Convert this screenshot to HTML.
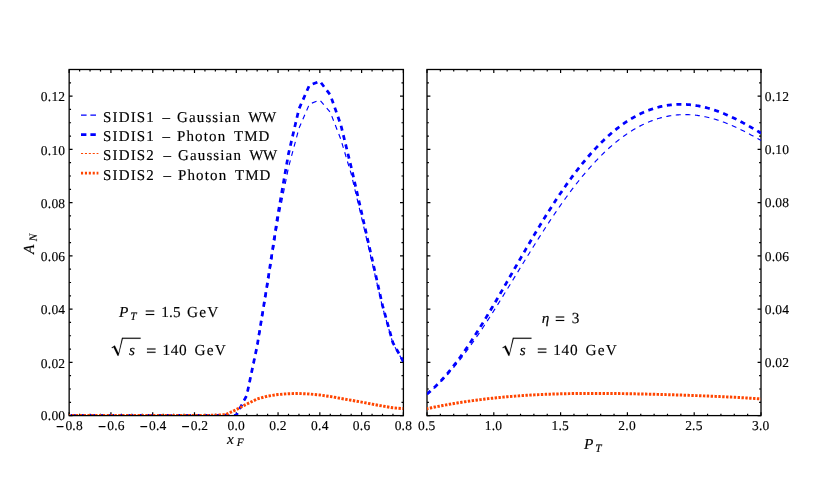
<!DOCTYPE html>
<html><head><meta charset="utf-8"><title>A_N plots</title>
<style>html,body{margin:0;padding:0;background:#fff;}body{width:830px;height:485px;position:relative;overflow:hidden;font-family:"Liberation Serif",serif;}</style>
</head><body>
<svg width="830" height="485" viewBox="0 0 830 485" style="display:block;position:absolute;left:0;top:0">
<rect width="830" height="485" fill="#fff"/>
<defs><clipPath id="cl"><rect x="69.15" y="69.5" width="334.25" height="345.60"/></clipPath><clipPath id="cr"><rect x="427.0" y="69.5" width="334.00" height="345.60"/></clipPath><mask id="tm" maskUnits="userSpaceOnUse" x="0" y="0" width="830" height="485"><rect width="830" height="485" fill="#fff"/></mask></defs>
<rect x="69.15" y="69.5" width="334.25" height="346.10" fill="none" stroke="#000" stroke-width="1.3"/>
<rect x="427.0" y="69.5" width="334.00" height="346.10" fill="none" stroke="#000" stroke-width="1.3"/>
<path d="M69.15,415.60L69.15,412.20M69.15,69.50L69.15,72.90M79.60,415.60L79.60,413.70M79.60,69.50L79.60,71.40M90.04,415.60L90.04,413.70M90.04,69.50L90.04,71.40M100.49,415.60L100.49,413.70M100.49,69.50L100.49,71.40M110.93,415.60L110.93,412.20M110.93,69.50L110.93,72.90M121.38,415.60L121.38,413.70M121.38,69.50L121.38,71.40M131.82,415.60L131.82,413.70M131.82,69.50L131.82,71.40M142.27,415.60L142.27,413.70M142.27,69.50L142.27,71.40M152.71,415.60L152.71,412.20M152.71,69.50L152.71,72.90M163.16,415.60L163.16,413.70M163.16,69.50L163.16,71.40M173.60,415.60L173.60,413.70M173.60,69.50L173.60,71.40M184.05,415.60L184.05,413.70M184.05,69.50L184.05,71.40M194.49,415.60L194.49,412.20M194.49,69.50L194.49,72.90M204.94,415.60L204.94,413.70M204.94,69.50L204.94,71.40M215.38,415.60L215.38,413.70M215.38,69.50L215.38,71.40M225.83,415.60L225.83,413.70M225.83,69.50L225.83,71.40M236.28,415.60L236.28,412.20M236.28,69.50L236.28,72.90M246.72,415.60L246.72,413.70M246.72,69.50L246.72,71.40M257.17,415.60L257.17,413.70M257.17,69.50L257.17,71.40M267.61,415.60L267.61,413.70M267.61,69.50L267.61,71.40M278.06,415.60L278.06,412.20M278.06,69.50L278.06,72.90M288.50,415.60L288.50,413.70M288.50,69.50L288.50,71.40M298.95,415.60L298.95,413.70M298.95,69.50L298.95,71.40M309.39,415.60L309.39,413.70M309.39,69.50L309.39,71.40M319.84,415.60L319.84,412.20M319.84,69.50L319.84,72.90M330.28,415.60L330.28,413.70M330.28,69.50L330.28,71.40M340.73,415.60L340.73,413.70M340.73,69.50L340.73,71.40M351.17,415.60L351.17,413.70M351.17,69.50L351.17,71.40M361.62,415.60L361.62,412.20M361.62,69.50L361.62,72.90M372.06,415.60L372.06,413.70M372.06,69.50L372.06,71.40M382.51,415.60L382.51,413.70M382.51,69.50L382.51,71.40M392.95,415.60L392.95,413.70M392.95,69.50L392.95,71.40M403.40,415.60L403.40,412.20M403.40,69.50L403.40,72.90M69.15,415.60L72.55,415.60M403.40,415.60L400.00,415.60M69.15,402.29L71.05,402.29M403.40,402.29L401.50,402.29M69.15,388.98L71.05,388.98M403.40,388.98L401.50,388.98M69.15,375.66L71.05,375.66M403.40,375.66L401.50,375.66M69.15,362.35L72.55,362.35M403.40,362.35L400.00,362.35M69.15,349.04L71.05,349.04M403.40,349.04L401.50,349.04M69.15,335.73L71.05,335.73M403.40,335.73L401.50,335.73M69.15,322.41L71.05,322.41M403.40,322.41L401.50,322.41M69.15,309.10L72.55,309.10M403.40,309.10L400.00,309.10M69.15,295.79L71.05,295.79M403.40,295.79L401.50,295.79M69.15,282.48L71.05,282.48M403.40,282.48L401.50,282.48M69.15,269.16L71.05,269.16M403.40,269.16L401.50,269.16M69.15,255.85L72.55,255.85M403.40,255.85L400.00,255.85M69.15,242.54L71.05,242.54M403.40,242.54L401.50,242.54M69.15,229.22L71.05,229.22M403.40,229.22L401.50,229.22M69.15,215.91L71.05,215.91M403.40,215.91L401.50,215.91M69.15,202.60L72.55,202.60M403.40,202.60L400.00,202.60M69.15,189.29L71.05,189.29M403.40,189.29L401.50,189.29M69.15,175.98L71.05,175.98M403.40,175.98L401.50,175.98M69.15,162.66L71.05,162.66M403.40,162.66L401.50,162.66M69.15,149.35L72.55,149.35M403.40,149.35L400.00,149.35M69.15,136.04L71.05,136.04M403.40,136.04L401.50,136.04M69.15,122.73L71.05,122.73M403.40,122.73L401.50,122.73M69.15,109.41L71.05,109.41M403.40,109.41L401.50,109.41M69.15,96.10L72.55,96.10M403.40,96.10L400.00,96.10M69.15,82.79L71.05,82.79M403.40,82.79L401.50,82.79M69.15,69.48L71.05,69.48M403.40,69.48L401.50,69.48M427.00,415.60L427.00,412.20M427.00,69.50L427.00,72.90M440.36,415.60L440.36,413.70M440.36,69.50L440.36,71.40M453.72,415.60L453.72,413.70M453.72,69.50L453.72,71.40M467.08,415.60L467.08,413.70M467.08,69.50L467.08,71.40M480.44,415.60L480.44,413.70M480.44,69.50L480.44,71.40M493.80,415.60L493.80,412.20M493.80,69.50L493.80,72.90M507.16,415.60L507.16,413.70M507.16,69.50L507.16,71.40M520.52,415.60L520.52,413.70M520.52,69.50L520.52,71.40M533.88,415.60L533.88,413.70M533.88,69.50L533.88,71.40M547.24,415.60L547.24,413.70M547.24,69.50L547.24,71.40M560.60,415.60L560.60,412.20M560.60,69.50L560.60,72.90M573.96,415.60L573.96,413.70M573.96,69.50L573.96,71.40M587.32,415.60L587.32,413.70M587.32,69.50L587.32,71.40M600.68,415.60L600.68,413.70M600.68,69.50L600.68,71.40M614.04,415.60L614.04,413.70M614.04,69.50L614.04,71.40M627.40,415.60L627.40,412.20M627.40,69.50L627.40,72.90M640.76,415.60L640.76,413.70M640.76,69.50L640.76,71.40M654.12,415.60L654.12,413.70M654.12,69.50L654.12,71.40M667.48,415.60L667.48,413.70M667.48,69.50L667.48,71.40M680.84,415.60L680.84,413.70M680.84,69.50L680.84,71.40M694.20,415.60L694.20,412.20M694.20,69.50L694.20,72.90M707.56,415.60L707.56,413.70M707.56,69.50L707.56,71.40M720.92,415.60L720.92,413.70M720.92,69.50L720.92,71.40M734.28,415.60L734.28,413.70M734.28,69.50L734.28,71.40M747.64,415.60L747.64,413.70M747.64,69.50L747.64,71.40M761.00,415.60L761.00,412.20M761.00,69.50L761.00,72.90M427.00,415.60L430.40,415.60M761.00,415.60L757.60,415.60M427.00,402.29L428.90,402.29M761.00,402.29L759.10,402.29M427.00,388.98L428.90,388.98M761.00,388.98L759.10,388.98M427.00,375.66L428.90,375.66M761.00,375.66L759.10,375.66M427.00,362.35L430.40,362.35M761.00,362.35L757.60,362.35M427.00,349.04L428.90,349.04M761.00,349.04L759.10,349.04M427.00,335.73L428.90,335.73M761.00,335.73L759.10,335.73M427.00,322.41L428.90,322.41M761.00,322.41L759.10,322.41M427.00,309.10L430.40,309.10M761.00,309.10L757.60,309.10M427.00,295.79L428.90,295.79M761.00,295.79L759.10,295.79M427.00,282.48L428.90,282.48M761.00,282.48L759.10,282.48M427.00,269.16L428.90,269.16M761.00,269.16L759.10,269.16M427.00,255.85L430.40,255.85M761.00,255.85L757.60,255.85M427.00,242.54L428.90,242.54M761.00,242.54L759.10,242.54M427.00,229.22L428.90,229.22M761.00,229.22L759.10,229.22M427.00,215.91L428.90,215.91M761.00,215.91L759.10,215.91M427.00,202.60L430.40,202.60M761.00,202.60L757.60,202.60M427.00,189.29L428.90,189.29M761.00,189.29L759.10,189.29M427.00,175.98L428.90,175.98M761.00,175.98L759.10,175.98M427.00,162.66L428.90,162.66M761.00,162.66L759.10,162.66M427.00,149.35L430.40,149.35M761.00,149.35L757.60,149.35M427.00,136.04L428.90,136.04M761.00,136.04L759.10,136.04M427.00,122.73L428.90,122.73M761.00,122.73L759.10,122.73M427.00,109.41L428.90,109.41M761.00,109.41L759.10,109.41M427.00,96.10L430.40,96.10M761.00,96.10L757.60,96.10M427.00,82.79L428.90,82.79M761.00,82.79L759.10,82.79M427.00,69.48L428.90,69.48M761.00,69.48L759.10,69.48" stroke="#000" stroke-width="1.2" fill="none"/>
<path d="M69.15,415.40 L79.60,415.40 L90.04,415.40 L100.49,415.40 L110.93,415.40 L121.38,415.40 L131.82,415.40 L142.27,415.40 L152.71,415.40 L163.16,415.40 L173.60,415.40 L184.05,415.40 L194.49,415.40 L204.94,415.40 L215.38,415.40 L225.83,415.40 L236.28,415.40 L246.72,395.90 L257.17,347.80 L267.61,286.00 L278.06,220.30 L288.50,167.30 L298.95,128.40 L309.39,104.10 L319.84,100.00 L330.28,112.30 L340.73,139.00 L351.17,173.90 L361.62,217.80 L372.06,262.20 L382.51,307.20 L392.95,343.60 L403.40,362.00" fill="none" stroke="#0000ff" stroke-width="1.15" stroke-dasharray="5.0 4.6" stroke-dashoffset="8.10" stroke-linejoin="round" clip-path="url(#cl)"/>
<path d="M69.15,415.40 L79.60,415.40 L90.04,415.40 L100.49,415.40 L110.93,415.40 L121.38,415.40 L131.82,415.40 L142.27,415.40 L152.71,415.40 L163.16,415.40 L173.60,415.40 L184.05,415.40 L194.49,415.40 L204.94,415.40 L215.38,415.40 L225.83,415.40 L236.28,415.40 L246.72,395.40 L257.17,345.80 L267.61,281.90 L278.06,213.60 L288.50,153.80 L298.95,109.00 L309.39,85.30 L319.84,81.20 L330.28,94.90 L340.73,124.50 L351.17,167.00 L361.62,212.80 L372.06,258.90 L382.51,305.40 L392.95,342.80 L403.40,361.50" fill="none" stroke="#0000ff" stroke-width="2.75" stroke-dasharray="5.0 4.6" stroke-dashoffset="8.00" stroke-linejoin="round" clip-path="url(#cl)"/>
<path d="M69.15,415.40 L79.60,415.40 L90.04,415.40 L100.49,415.40 L110.93,415.40 L121.38,415.40 L131.82,415.40 L142.27,415.40 L152.71,415.40 L163.16,415.40 L173.60,415.40 L184.05,415.40 L194.49,415.40 L204.94,415.40 L215.38,415.30 L225.83,414.60 L236.28,409.60 L246.72,404.10 L257.17,399.00 L267.61,396.10 L278.06,394.50 L288.50,393.70 L298.95,393.50 L309.39,394.00 L319.84,395.00 L330.28,396.50 L340.73,398.40 L351.17,400.20 L361.62,402.10 L372.06,404.10 L382.51,406.05 L392.95,407.80 L403.40,408.60" fill="none" stroke="#ff4500" stroke-width="2.95" stroke-dasharray="2.4 1.46" stroke-dashoffset="1.05" stroke-linejoin="round" clip-path="url(#cl)"/>
<path d="M427.00,394.47 L428.12,393.53 L429.23,392.57 L430.35,391.60 L431.47,390.61 L432.59,389.61 L433.70,388.59 L434.82,387.55 L435.94,386.49 L437.05,385.42 L438.17,384.33 L439.29,383.23 L440.40,382.11 L441.52,380.97 L442.64,379.81 L443.76,378.64 L444.87,377.45 L445.99,376.24 L447.11,375.01 L448.22,373.77 L449.34,372.51 L450.46,371.24 L451.58,369.94 L452.69,368.63 L453.81,367.31 L454.93,365.97 L456.04,364.61 L457.16,363.23 L458.28,361.84 L459.39,360.44 L460.51,359.02 L461.63,357.58 L462.75,356.13 L463.86,354.66 L464.98,353.18 L466.10,351.69 L467.21,350.18 L468.33,348.65 L469.45,347.12 L470.57,345.57 L471.68,344.00 L472.80,342.43 L473.92,340.84 L475.03,339.23 L476.15,337.62 L477.27,336.00 L478.38,334.36 L479.50,332.71 L480.62,331.05 L481.74,329.39 L482.85,327.71 L483.97,326.02 L485.09,324.32 L486.20,322.61 L487.32,320.90 L488.44,319.17 L489.56,317.44 L490.67,315.70 L491.79,313.95 L492.91,312.19 L494.02,310.43 L495.14,308.66 L496.26,306.89 L497.37,305.10 L498.49,303.32 L499.61,301.53 L500.73,299.73 L501.84,297.93 L502.96,296.12 L504.08,294.32 L505.19,292.50 L506.31,290.69 L507.43,288.87 L508.55,287.05 L509.66,285.23 L510.78,283.40 L511.90,281.58 L513.01,279.75 L514.13,277.92 L515.25,276.09 L516.36,274.27 L517.48,272.44 L518.60,270.61 L519.72,268.79 L520.83,266.96 L521.95,265.14 L523.07,263.32 L524.18,261.50 L525.30,259.68 L526.42,257.87 L527.54,256.05 L528.65,254.25 L529.77,252.44 L530.89,250.64 L532.00,248.85 L533.12,247.06 L534.24,245.27 L535.35,243.49 L536.47,241.71 L537.59,239.94 L538.71,238.18 L539.82,236.42 L540.94,234.67 L542.06,232.92 L543.17,231.19 L544.29,229.46 L545.41,227.73 L546.53,226.02 L547.64,224.31 L548.76,222.61 L549.88,220.92 L550.99,219.24 L552.11,217.57 L553.23,215.90 L554.34,214.25 L555.46,212.60 L556.58,210.97 L557.70,209.34 L558.81,207.73 L559.93,206.12 L561.05,204.53 L562.16,202.95 L563.28,201.37 L564.40,199.81 L565.52,198.26 L566.63,196.72 L567.75,195.20 L568.87,193.68 L569.98,192.18 L571.10,190.69 L572.22,189.21 L573.33,187.74 L574.45,186.29 L575.57,184.85 L576.69,183.42 L577.80,182.00 L578.92,180.60 L580.04,179.21 L581.15,177.83 L582.27,176.47 L583.39,175.12 L584.51,173.79 L585.62,172.47 L586.74,171.16 L587.86,169.86 L588.97,168.59 L590.09,167.32 L591.21,166.07 L592.32,164.83 L593.44,163.61 L594.56,162.40 L595.68,161.21 L596.79,160.03 L597.91,158.86 L599.03,157.71 L600.14,156.58 L601.26,155.46 L602.38,154.35 L603.49,153.26 L604.61,152.19 L605.73,151.13 L606.85,150.08 L607.96,149.06 L609.08,148.04 L610.20,147.04 L611.31,146.06 L612.43,145.09 L613.55,144.14 L614.67,143.20 L615.78,142.27 L616.90,141.37 L618.02,140.47 L619.13,139.60 L620.25,138.74 L621.37,137.89 L622.48,137.06 L623.60,136.25 L624.72,135.45 L625.84,134.66 L626.95,133.89 L628.07,133.14 L629.19,132.40 L630.30,131.68 L631.42,130.97 L632.54,130.28 L633.66,129.60 L634.77,128.94 L635.89,128.30 L637.01,127.67 L638.12,127.05 L639.24,126.45 L640.36,125.87 L641.47,125.30 L642.59,124.74 L643.71,124.21 L644.83,123.68 L645.94,123.17 L647.06,122.68 L648.18,122.20 L649.29,121.74 L650.41,121.29 L651.53,120.86 L652.65,120.44 L653.76,120.03 L654.88,119.65 L656.00,119.27 L657.11,118.91 L658.23,118.57 L659.35,118.24 L660.46,117.92 L661.58,117.62 L662.70,117.34 L663.82,117.07 L664.93,116.81 L666.05,116.57 L667.17,116.34 L668.28,116.13 L669.40,115.93 L670.52,115.74 L671.64,115.57 L672.75,115.42 L673.87,115.27 L674.99,115.14 L676.10,115.03 L677.22,114.93 L678.34,114.84 L679.45,114.77 L680.57,114.71 L681.69,114.66 L682.81,114.63 L683.92,114.61 L685.04,114.61 L686.16,114.62 L687.27,114.64 L688.39,114.67 L689.51,114.72 L690.63,114.78 L691.74,114.86 L692.86,114.94 L693.98,115.05 L695.09,115.16 L696.21,115.28 L697.33,115.42 L698.44,115.58 L699.56,115.74 L700.68,115.92 L701.80,116.10 L702.91,116.31 L704.03,116.52 L705.15,116.74 L706.26,116.98 L707.38,117.23 L708.50,117.49 L709.62,117.77 L710.73,118.05 L711.85,118.35 L712.97,118.66 L714.08,118.97 L715.20,119.30 L716.32,119.65 L717.43,120.00 L718.55,120.36 L719.67,120.73 L720.79,121.12 L721.90,121.51 L723.02,121.92 L724.14,122.33 L725.25,122.76 L726.37,123.20 L727.49,123.64 L728.61,124.09 L729.72,124.56 L730.84,125.03 L731.96,125.51 L733.07,126.00 L734.19,126.50 L735.31,127.01 L736.42,127.53 L737.54,128.05 L738.66,128.59 L739.78,129.13 L740.89,129.67 L742.01,130.23 L743.13,130.79 L744.24,131.36 L745.36,131.93 L746.48,132.51 L747.60,133.10 L748.71,133.69 L749.83,134.29 L750.95,134.90 L752.06,135.50 L753.18,136.12 L754.30,136.73 L755.41,137.35 L756.53,137.98 L757.65,138.60 L758.77,139.23 L759.88,139.87 L761.00,140.50" fill="none" stroke="#0000ff" stroke-width="1.15" stroke-dasharray="5.0 4.6" stroke-dashoffset="0.70" stroke-linejoin="round" clip-path="url(#cr)"/>
<path d="M427.00,394.02 L428.12,393.08 L429.23,392.13 L430.35,391.16 L431.47,390.16 L432.59,389.14 L433.70,388.10 L434.82,387.03 L435.94,385.95 L437.05,384.84 L438.17,383.71 L439.29,382.56 L440.40,381.38 L441.52,380.19 L442.64,378.97 L443.76,377.73 L444.87,376.47 L445.99,375.19 L447.11,373.89 L448.22,372.57 L449.34,371.22 L450.46,369.86 L451.58,368.48 L452.69,367.08 L453.81,365.66 L454.93,364.21 L456.04,362.76 L457.16,361.28 L458.28,359.78 L459.39,358.27 L460.51,356.73 L461.63,355.18 L462.75,353.62 L463.86,352.03 L464.98,350.43 L466.10,348.82 L467.21,347.18 L468.33,345.54 L469.45,343.88 L470.57,342.20 L471.68,340.51 L472.80,338.80 L473.92,337.08 L475.03,335.35 L476.15,333.61 L477.27,331.85 L478.38,330.08 L479.50,328.30 L480.62,326.51 L481.74,324.70 L482.85,322.89 L483.97,321.07 L485.09,319.23 L486.20,317.39 L487.32,315.54 L488.44,313.68 L489.56,311.81 L490.67,309.93 L491.79,308.05 L492.91,306.16 L494.02,304.26 L495.14,302.36 L496.26,300.45 L497.37,298.54 L498.49,296.62 L499.61,294.70 L500.73,292.77 L501.84,290.84 L502.96,288.90 L504.08,286.97 L505.19,285.03 L506.31,283.09 L507.43,281.14 L508.55,279.20 L509.66,277.25 L510.78,275.30 L511.90,273.36 L513.01,271.41 L514.13,269.46 L515.25,267.52 L516.36,265.57 L517.48,263.63 L518.60,261.69 L519.72,259.75 L520.83,257.81 L521.95,255.88 L523.07,253.95 L524.18,252.02 L525.30,250.10 L526.42,248.18 L527.54,246.27 L528.65,244.36 L529.77,242.45 L530.89,240.56 L532.00,238.66 L533.12,236.78 L534.24,234.90 L535.35,233.03 L536.47,231.16 L537.59,229.30 L538.71,227.45 L539.82,225.61 L540.94,223.77 L542.06,221.95 L543.17,220.13 L544.29,218.32 L545.41,216.52 L546.53,214.73 L547.64,212.95 L548.76,211.18 L549.88,209.42 L550.99,207.68 L552.11,205.94 L553.23,204.21 L554.34,202.49 L555.46,200.79 L556.58,199.09 L557.70,197.41 L558.81,195.74 L559.93,194.08 L561.05,192.44 L562.16,190.80 L563.28,189.18 L564.40,187.57 L565.52,185.98 L566.63,184.40 L567.75,182.83 L568.87,181.27 L569.98,179.73 L571.10,178.21 L572.22,176.69 L573.33,175.19 L574.45,173.71 L575.57,172.24 L576.69,170.78 L577.80,169.34 L578.92,167.91 L580.04,166.50 L581.15,165.10 L582.27,163.72 L583.39,162.35 L584.51,161.00 L585.62,159.66 L586.74,158.34 L587.86,157.03 L588.97,155.74 L590.09,154.47 L591.21,153.21 L592.32,151.97 L593.44,150.74 L594.56,149.53 L595.68,148.33 L596.79,147.15 L597.91,145.99 L599.03,144.84 L600.14,143.71 L601.26,142.59 L602.38,141.50 L603.49,140.41 L604.61,139.35 L605.73,138.30 L606.85,137.26 L607.96,136.24 L609.08,135.24 L610.20,134.26 L611.31,133.29 L612.43,132.34 L613.55,131.40 L614.67,130.48 L615.78,129.58 L616.90,128.69 L618.02,127.82 L619.13,126.97 L620.25,126.13 L621.37,125.31 L622.48,124.51 L623.60,123.72 L624.72,122.95 L625.84,122.19 L626.95,121.45 L628.07,120.73 L629.19,120.02 L630.30,119.33 L631.42,118.66 L632.54,118.00 L633.66,117.35 L634.77,116.73 L635.89,116.12 L637.01,115.52 L638.12,114.95 L639.24,114.38 L640.36,113.84 L641.47,113.31 L642.59,112.79 L643.71,112.29 L644.83,111.81 L645.94,111.34 L647.06,110.89 L648.18,110.46 L649.29,110.03 L650.41,109.63 L651.53,109.24 L652.65,108.86 L653.76,108.51 L654.88,108.16 L656.00,107.83 L657.11,107.52 L658.23,107.22 L659.35,106.94 L660.46,106.67 L661.58,106.41 L662.70,106.17 L663.82,105.95 L664.93,105.74 L666.05,105.55 L667.17,105.37 L668.28,105.20 L669.40,105.05 L670.52,104.91 L671.64,104.79 L672.75,104.68 L673.87,104.59 L674.99,104.51 L676.10,104.44 L677.22,104.39 L678.34,104.35 L679.45,104.32 L680.57,104.31 L681.69,104.32 L682.81,104.33 L683.92,104.36 L685.04,104.41 L686.16,104.46 L687.27,104.53 L688.39,104.62 L689.51,104.71 L690.63,104.82 L691.74,104.95 L692.86,105.08 L693.98,105.23 L695.09,105.39 L696.21,105.56 L697.33,105.75 L698.44,105.95 L699.56,106.16 L700.68,106.38 L701.80,106.62 L702.91,106.87 L704.03,107.13 L705.15,107.40 L706.26,107.68 L707.38,107.98 L708.50,108.28 L709.62,108.60 L710.73,108.93 L711.85,109.27 L712.97,109.63 L714.08,109.99 L715.20,110.36 L716.32,110.75 L717.43,111.14 L718.55,111.55 L719.67,111.97 L720.79,112.39 L721.90,112.83 L723.02,113.28 L724.14,113.74 L725.25,114.20 L726.37,114.68 L727.49,115.17 L728.61,115.66 L729.72,116.17 L730.84,116.68 L731.96,117.20 L733.07,117.73 L734.19,118.27 L735.31,118.82 L736.42,119.37 L737.54,119.94 L738.66,120.51 L739.78,121.08 L740.89,121.67 L742.01,122.26 L743.13,122.86 L744.24,123.47 L745.36,124.08 L746.48,124.70 L747.60,125.32 L748.71,125.95 L749.83,126.58 L750.95,127.22 L752.06,127.86 L753.18,128.51 L754.30,129.16 L755.41,129.82 L756.53,130.47 L757.65,131.13 L758.77,131.80 L759.88,132.46 L761.00,133.13" fill="none" stroke="#0000ff" stroke-width="2.75" stroke-dasharray="5.0 4.6" stroke-dashoffset="0.25" stroke-linejoin="round" clip-path="url(#cr)"/>
<path d="M427.00,408.69 L428.12,408.45 L429.23,408.21 L430.35,407.98 L431.47,407.75 L432.59,407.52 L433.70,407.29 L434.82,407.06 L435.94,406.84 L437.05,406.62 L438.17,406.40 L439.29,406.18 L440.40,405.97 L441.52,405.75 L442.64,405.54 L443.76,405.33 L444.87,405.13 L445.99,404.92 L447.11,404.72 L448.22,404.52 L449.34,404.32 L450.46,404.13 L451.58,403.93 L452.69,403.74 L453.81,403.55 L454.93,403.36 L456.04,403.17 L457.16,402.99 L458.28,402.81 L459.39,402.63 L460.51,402.45 L461.63,402.27 L462.75,402.10 L463.86,401.93 L464.98,401.76 L466.10,401.59 L467.21,401.43 L468.33,401.26 L469.45,401.10 L470.57,400.94 L471.68,400.78 L472.80,400.63 L473.92,400.47 L475.03,400.32 L476.15,400.17 L477.27,400.02 L478.38,399.88 L479.50,399.73 L480.62,399.59 L481.74,399.45 L482.85,399.31 L483.97,399.18 L485.09,399.04 L486.20,398.91 L487.32,398.78 L488.44,398.65 L489.56,398.52 L490.67,398.40 L491.79,398.28 L492.91,398.16 L494.02,398.04 L495.14,397.92 L496.26,397.80 L497.37,397.69 L498.49,397.58 L499.61,397.47 L500.73,397.36 L501.84,397.25 L502.96,397.14 L504.08,397.04 L505.19,396.94 L506.31,396.84 L507.43,396.74 L508.55,396.64 L509.66,396.55 L510.78,396.46 L511.90,396.37 L513.01,396.28 L514.13,396.19 L515.25,396.10 L516.36,396.02 L517.48,395.93 L518.60,395.85 L519.72,395.77 L520.83,395.69 L521.95,395.62 L523.07,395.54 L524.18,395.47 L525.30,395.39 L526.42,395.32 L527.54,395.25 L528.65,395.19 L529.77,395.12 L530.89,395.06 L532.00,394.99 L533.12,394.93 L534.24,394.87 L535.35,394.81 L536.47,394.75 L537.59,394.70 L538.71,394.64 L539.82,394.59 L540.94,394.54 L542.06,394.49 L543.17,394.44 L544.29,394.39 L545.41,394.34 L546.53,394.30 L547.64,394.25 L548.76,394.21 L549.88,394.17 L550.99,394.13 L552.11,394.09 L553.23,394.05 L554.34,394.02 L555.46,393.98 L556.58,393.95 L557.70,393.91 L558.81,393.88 L559.93,393.85 L561.05,393.82 L562.16,393.79 L563.28,393.77 L564.40,393.74 L565.52,393.72 L566.63,393.69 L567.75,393.67 L568.87,393.65 L569.98,393.63 L571.10,393.61 L572.22,393.59 L573.33,393.57 L574.45,393.56 L575.57,393.54 L576.69,393.53 L577.80,393.51 L578.92,393.50 L580.04,393.49 L581.15,393.48 L582.27,393.47 L583.39,393.46 L584.51,393.45 L585.62,393.44 L586.74,393.44 L587.86,393.43 L588.97,393.43 L590.09,393.42 L591.21,393.42 L592.32,393.42 L593.44,393.42 L594.56,393.42 L595.68,393.42 L596.79,393.42 L597.91,393.42 L599.03,393.42 L600.14,393.43 L601.26,393.43 L602.38,393.43 L603.49,393.44 L604.61,393.45 L605.73,393.45 L606.85,393.46 L607.96,393.47 L609.08,393.48 L610.20,393.49 L611.31,393.50 L612.43,393.51 L613.55,393.52 L614.67,393.53 L615.78,393.54 L616.90,393.56 L618.02,393.57 L619.13,393.59 L620.25,393.60 L621.37,393.62 L622.48,393.63 L623.60,393.65 L624.72,393.67 L625.84,393.68 L626.95,393.70 L628.07,393.72 L629.19,393.74 L630.30,393.76 L631.42,393.78 L632.54,393.80 L633.66,393.82 L634.77,393.84 L635.89,393.86 L637.01,393.89 L638.12,393.91 L639.24,393.93 L640.36,393.96 L641.47,393.98 L642.59,394.01 L643.71,394.03 L644.83,394.06 L645.94,394.08 L647.06,394.11 L648.18,394.13 L649.29,394.16 L650.41,394.19 L651.53,394.22 L652.65,394.24 L653.76,394.27 L654.88,394.30 L656.00,394.33 L657.11,394.36 L658.23,394.39 L659.35,394.42 L660.46,394.45 L661.58,394.48 L662.70,394.51 L663.82,394.54 L664.93,394.58 L666.05,394.61 L667.17,394.64 L668.28,394.67 L669.40,394.71 L670.52,394.74 L671.64,394.77 L672.75,394.81 L673.87,394.84 L674.99,394.88 L676.10,394.91 L677.22,394.95 L678.34,394.98 L679.45,395.02 L680.57,395.06 L681.69,395.09 L682.81,395.13 L683.92,395.17 L685.04,395.21 L686.16,395.24 L687.27,395.28 L688.39,395.32 L689.51,395.36 L690.63,395.40 L691.74,395.44 L692.86,395.48 L693.98,395.52 L695.09,395.56 L696.21,395.60 L697.33,395.64 L698.44,395.68 L699.56,395.73 L700.68,395.77 L701.80,395.81 L702.91,395.86 L704.03,395.90 L705.15,395.94 L706.26,395.99 L707.38,396.03 L708.50,396.08 L709.62,396.12 L710.73,396.17 L711.85,396.22 L712.97,396.27 L714.08,396.31 L715.20,396.36 L716.32,396.41 L717.43,396.46 L718.55,396.51 L719.67,396.56 L720.79,396.61 L721.90,396.66 L723.02,396.71 L724.14,396.77 L725.25,396.82 L726.37,396.87 L727.49,396.93 L728.61,396.98 L729.72,397.04 L730.84,397.09 L731.96,397.15 L733.07,397.21 L734.19,397.26 L735.31,397.32 L736.42,397.38 L737.54,397.44 L738.66,397.50 L739.78,397.57 L740.89,397.63 L742.01,397.69 L743.13,397.76 L744.24,397.82 L745.36,397.89 L746.48,397.95 L747.60,398.02 L748.71,398.09 L749.83,398.16 L750.95,398.23 L752.06,398.30 L753.18,398.37 L754.30,398.44 L755.41,398.52 L756.53,398.59 L757.65,398.67 L758.77,398.75 L759.88,398.83 L761.00,398.91" fill="none" stroke="#ff4500" stroke-width="2.95" stroke-dasharray="2.4 1.46" stroke-dashoffset="0.95" stroke-linejoin="round" clip-path="url(#cr)"/>
<g mask="url(#tm)" style="will-change:opacity;text-rendering:geometricPrecision" stroke="#000" stroke-width="0.15" stroke-linejoin="round">
<g font-family="Liberation Serif, serif" font-size="13.5" fill="#000" letter-spacing="0.22">
<text x="65.35" y="419.60" text-anchor="end">0.00</text>
<text x="65.35" y="367.55" text-anchor="end">0.02</text>
<text x="764.8" y="367.15">0.02</text>
<text x="65.35" y="314.30" text-anchor="end">0.04</text>
<text x="764.8" y="313.90">0.04</text>
<text x="65.35" y="261.05" text-anchor="end">0.06</text>
<text x="764.8" y="260.65">0.06</text>
<text x="65.35" y="207.80" text-anchor="end">0.08</text>
<text x="764.8" y="207.40">0.08</text>
<text x="65.35" y="154.55" text-anchor="end">0.10</text>
<text x="764.8" y="154.15">0.10</text>
<text x="65.35" y="101.30" text-anchor="end">0.12</text>
<text x="764.8" y="100.90">0.12</text>
<text x="69.65" y="429.6" text-anchor="middle"><tspan dy="1.3" stroke-width="0.6">−</tspan><tspan dy="-1.3" dx="1.2">0.8</tspan></text>
<text x="111.43" y="429.6" text-anchor="middle"><tspan dy="1.3" stroke-width="0.6">−</tspan><tspan dy="-1.3" dx="1.2">0.6</tspan></text>
<text x="153.21" y="429.6" text-anchor="middle"><tspan dy="1.3" stroke-width="0.6">−</tspan><tspan dy="-1.3" dx="1.2">0.4</tspan></text>
<text x="194.99" y="429.6" text-anchor="middle"><tspan dy="1.3" stroke-width="0.6">−</tspan><tspan dy="-1.3" dx="1.2">0.2</tspan></text>
<text x="236.27" y="429.6" text-anchor="middle">0.0</text>
<text x="278.06" y="429.6" text-anchor="middle">0.2</text>
<text x="319.84" y="429.6" text-anchor="middle">0.4</text>
<text x="361.62" y="429.6" text-anchor="middle">0.6</text>
<text x="403.40" y="429.6" text-anchor="middle">0.8</text>
<text x="426.70" y="429.6" text-anchor="middle">0.5</text>
<text x="493.50" y="429.6" text-anchor="middle">1.0</text>
<text x="560.30" y="429.6" text-anchor="middle">1.5</text>
<text x="627.10" y="429.6" text-anchor="middle">2.0</text>
<text x="693.90" y="429.6" text-anchor="middle">2.5</text>
<text x="760.70" y="429.6" text-anchor="middle">3.0</text>
</g>
<g font-family="Liberation Serif, serif" font-size="15.0" fill="#000" letter-spacing="1.13">
<text x="103.1" y="121.6">SIDIS1</text>
<text x="162.6" y="121.6">–</text>
<text x="177.0" y="121.6">Gaussian</text>
<text x="248.3" y="121.6" letter-spacing="-0.5">WW</text>
<text x="103.1" y="141.2">SIDIS1</text>
<text x="162.6" y="141.2">–</text>
<text x="177.0" y="141.2">Photon</text>
<text x="233.9" y="141.2" letter-spacing="1.1">TMD</text>
<text x="103.1" y="159.8">SIDIS2</text>
<text x="163.6" y="159.8">–</text>
<text x="178.0" y="159.8">Gaussian</text>
<text x="249.3" y="159.8" letter-spacing="-0.5">WW</text>
<text x="103.1" y="179.6">SIDIS2</text>
<text x="163.6" y="179.6">–</text>
<text x="178.0" y="179.6">Photon</text>
<text x="234.9" y="179.6" letter-spacing="1.1">TMD</text>
</g>
<path d="M81,115.1H96.1" stroke="#0000ff" stroke-width="1.15" stroke-dasharray="5.6 3.8" fill="none"/>
<path d="M81,134.7H96.1" stroke="#0000ff" stroke-width="2.75" stroke-dasharray="5.4 4.0" fill="none"/>
<path d="M81,153.5H98.4" stroke="#ff4500" stroke-width="1.15" stroke-dasharray="2.1 1.8" fill="none"/>
<path d="M81,173.1H98.4" stroke="#ff4500" stroke-width="2.75" stroke-dasharray="2.1 1.8" fill="none"/>
<g font-family="Liberation Serif, serif" font-size="15.3" fill="#000">
<text x="119.0" y="316.8" font-style="italic">P</text>
<text x="130.3" y="319.5" font-style="italic" font-size="11.3">T</text>
<path d="M145.8,310.58H154.2V311.62H145.8Z M145.8,313.98H154.2V315.02H145.8Z" fill="#000"/>
<text x="161.2" y="316.8" letter-spacing="0.2">1.5</text>
<text x="187.0" y="316.8" letter-spacing="1.2">GeV</text>
<path d="M111.60,347.60 L114.80,345.40 L118.60,353.20 L122.00,337.75 L140.60,337.75 L140.60,338.70 L122.80,338.70 L118.50,355.80 L117.60,355.80 L113.50,347.20 L112.00,348.20Z" fill="#000"/>
<text x="128.90" y="355.2" font-style="italic">s</text>
<path d="M147.0,348.38H155.5V349.42H147.0Z M147.0,351.78H155.5V352.82H147.0Z" fill="#000"/>
<text x="162.40" y="355.0" letter-spacing="0.7">140</text>
<text x="194.60" y="355.0" letter-spacing="1.2">GeV</text>
<path d="M502.45,347.60 L505.65,345.40 L509.45,353.20 L512.85,337.75 L531.45,337.75 L531.45,338.70 L513.65,338.70 L509.35,355.80 L508.45,355.80 L504.35,347.20 L502.85,348.20Z" fill="#000"/>
<text x="519.75" y="355.2" font-style="italic">s</text>
<path d="M537.85,348.38H546.35V349.42H537.85Z M537.85,351.78H546.35V352.82H537.85Z" fill="#000"/>
<text x="553.25" y="355.0" letter-spacing="0.7">140</text>
<text x="585.45" y="355.0" letter-spacing="1.2">GeV</text>
<text x="541.8" y="322.6" font-style="italic">η</text>
<path d="M555.8,316.48H564.2V317.52H555.8Z M555.8,319.88H564.2V320.92H555.8Z" fill="#000"/>
<text x="571.8" y="322.6">3</text>
<text x="227.0" y="443.8" font-style="italic">x</text>
<text x="236.8" y="446.2" font-style="italic" font-size="11.3">F</text>
<text x="584.1" y="448.8" font-style="italic">P</text>
<text x="595.3" y="451.8" font-style="italic" font-size="11.3">T</text>
<g transform="translate(34.2,253.9) rotate(-90)"><text x="0" y="0" font-style="italic">A</text><text x="12.6" y="2.9" font-style="italic" font-size="11.3">N</text></g>
</g>
</g>
</svg>
</body></html>
